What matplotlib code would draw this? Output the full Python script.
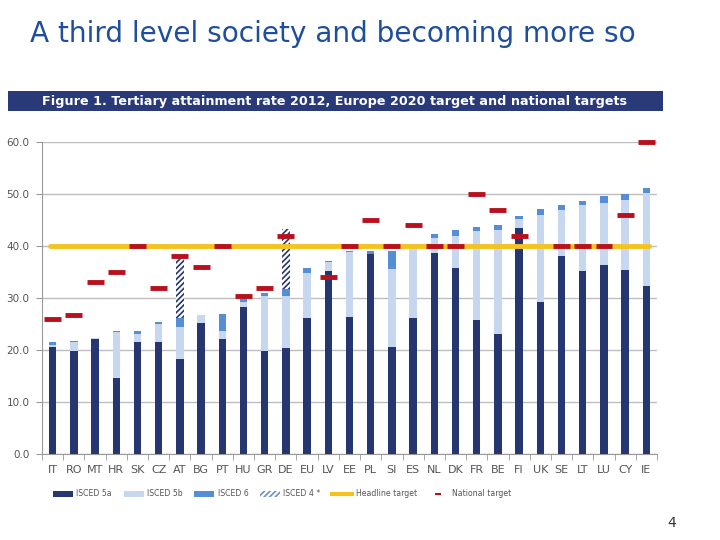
import matplotlib
matplotlib.use("Agg")
import matplotlib.pyplot as plt
from matplotlib.patches import Rectangle, Patch
from matplotlib.lines import Line2D
import numpy as np

countries = ["IT", "RO", "MT", "HR", "SK", "CZ", "AT", "BG", "PT", "HU", "GR", "DE", "EU", "LV",
             "EE", "PL", "SI", "ES", "NL", "DK", "FR", "BE", "FI", "UK", "SE", "LT", "LU", "CY", "IE"]
isced_5a = [20.5, 19.8, 22.1, 14.7, 21.6, 21.6, 18.2, 25.2, 22.2, 28.2, 19.8, 20.3, 26.1, 35.2,
            26.3, 38.4, 20.5, 26.1, 38.6, 35.7, 25.8, 23.0, 43.5, 29.2, 38.1, 35.2, 36.3, 35.4, 32.3]
isced_5b = [0.4, 1.8, 0.2, 8.8, 1.5, 3.4, 6.3, 1.5, 1.4, 1.0, 10.6, 10.1, 8.7, 1.8,
            12.6, 0.1, 15.0, 13.6, 2.9, 6.2, 17.1, 20.1, 1.6, 16.8, 8.8, 12.7, 12.0, 13.5, 17.9]
isced_6 = [0.7, 0.1, 0.1, 0.2, 0.5, 0.4, 1.6, 0.1, 3.4, 0.7, 0.5, 1.4, 0.9, 0.1,
           0.2, 0.6, 3.5, 0.1, 0.8, 1.2, 0.8, 0.9, 0.7, 1.1, 1.0, 0.8, 1.4, 1.1, 1.0]
isced_4 = [0, 0, 0, 0, 0, 0, 11.8, 0, 0, 0, 0, 11.5, 0, 0,
           0, 0, 0, 0, 0, 0, 0, 0, 0, 0, 0, 0, 0, 0, 0]
national_target = [26, 26.7, 33, 35, 40, 32, 38, 36, 40, 30.3, 32, 42, None, 34,
                   40, 45, 40, 44, 40, 40, 50, 47, 42, None, 40, 40, 40, 46, 60]
headline_target = 40
yticks = [0, 10, 20, 30, 40, 50, 60]

c5a = "#253670"
c5b = "#c6d7ef"
c6 = "#558ed5"
ctarget = "#b8101c"
cyellow = "#f5c320"

fig = plt.figure(figsize=(7.2, 5.4), dpi=100)
fig.patch.set_facecolor("white")

# Title
fig.text(30 / 720, 1 - 34 / 540, "A third level society and becoming more so",
         fontsize=20.2, color="#1f4e9a", ha="left", va="center", family="DejaVu Sans")

# Banner
fig.patches.append(Rectangle((8 / 720, 1 - 111 / 540), (663 - 8) / 720, 20 / 540,
                             transform=fig.transFigure, facecolor="#2a3a78", edgecolor="none"))
fig.text(335 / 720, 1 - 101 / 540,
         "Figure 1. Tertiary attainment rate 2012, Europe 2020 target and national targets",
         fontsize=9.2, fontweight="bold", color="white", ha="center", va="center",
         family="DejaVu Sans")

ax = fig.add_axes([42 / 720, 1 - 454 / 540, (657 - 42) / 720, (454 - 142) / 540])
x = np.arange(len(countries))
w = 0.35
b5a = np.array(isced_5a)
b5b = np.array(isced_5b)
b6 = np.array(isced_6)
b4 = np.array(isced_4)
ax.bar(x, b5a, w, color=c5a, zorder=3)
ax.bar(x, b5b, w, bottom=b5a, color=c5b, zorder=3)
ax.bar(x, b6, w, bottom=b5a + b5b, color=c6, zorder=3)
plt.rcParams["hatch.linewidth"] = 1.2
ax.bar(x, b4, w, bottom=b5a + b5b + b6, facecolor="white", edgecolor=c5a,
       hatch="//////", linewidth=0, zorder=3)

ax.plot([x[0] - 0.1, x[-1] + 0.1], [headline_target, headline_target], color=cyellow,
        lw=3.5, solid_capstyle="round", zorder=4)

for xi, t in zip(x, national_target):
    if t is not None:
        ax.hlines(t, xi - 0.4, xi + 0.4, color=ctarget, lw=3.5, zorder=5, clip_on=False)

ax.set_xlim(-0.5, len(countries) - 0.5)
ax.set_ylim(0, 60)
ax.set_yticks(yticks)
ax.set_yticklabels([f"{v:.1f}" for v in yticks], fontsize=7.5, color="#555555")
ax.yaxis.grid(True, color="#bdbdbd", lw=1, zorder=0)
ax.set_axisbelow(True)
ax.set_xticks(x)
ax.set_xticklabels(countries, fontsize=8, color="#555555")
ax.set_xticks(np.arange(len(countries) + 1) - 0.5, minor=True)
ax.tick_params(axis="x", which="major", length=0, pad=8)
ax.tick_params(axis="x", which="minor", length=4, color="#999999")
ax.tick_params(axis="y", length=4, color="#999999", pad=5)
for s in ["top", "right"]:
    ax.spines[s].set_visible(False)
ax.spines["left"].set_color("#999999")
ax.spines["bottom"].set_color("#999999")

handles = [
    Patch(facecolor=c5a, label="ISCED 5a"),
    Patch(facecolor=c5b, label="ISCED 5b"),
    Patch(facecolor=c6, label="ISCED 6"),
    Patch(facecolor="white", edgecolor="#6b8fc9", hatch="//////", linewidth=0, label="ISCED 4 *"),
    Line2D([0], [0], color=cyellow, lw=3, label="Headline target"),
    Line2D([0], [0], color=ctarget, linestyle="none", marker="_", markersize=4,
           markeredgewidth=1.5, label="National target"),
]
leg = fig.legend(handles=handles, loc="center left", bbox_to_anchor=(46 / 720, 1 - 494 / 540), ncol=6,
                 frameon=False, fontsize=5.6, handlelength=2.6, handleheight=0.7, columnspacing=1.5,
                 handletextpad=0.4)
for t in leg.get_texts():
    t.set_color("#555555")

fig.text(672 / 720, 1 - 523 / 540, "4", fontsize=10, color="#333333", ha="center", va="center")

fig.savefig("out.png", dpi=100, facecolor="white")
